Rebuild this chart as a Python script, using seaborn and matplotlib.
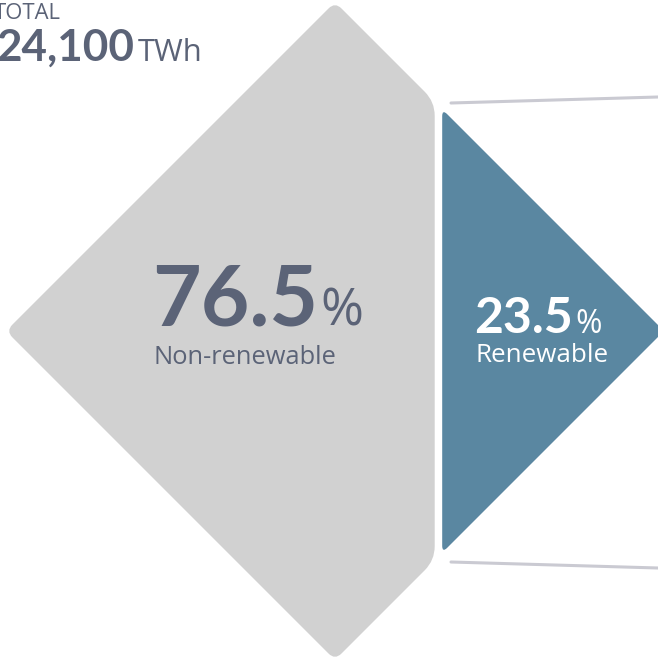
import numpy as np
import pandas as pd
import seaborn as sns
import matplotlib.pyplot as plt
from matplotlib.path import Path
from matplotlib.patches import PathPatch

# Data
total_twh = 24100
categories = ["Non-renewable", "Renewable"]
shares = [76.5, 23.5]
fill_colors = ["#d1d1d1", "#5a87a1"]
text_colors = ["#5b6377", "#ffffff"]

sns.set_theme(style="white")
plt.rcParams["font.family"] = ["Lato", "DejaVu Sans"]
LABEL_FONT = ["Open Sans", "DejaVu Sans"]

W = H = 658
fig = plt.figure(figsize=(W / 100, H / 100), dpi=100)
ax = fig.add_axes([0, 0, 1, 1])

PT = 0.72  # points per pixel at 100 dpi


def rounded_path(pts, radii):
    pts = [np.asarray(p, float) for p in pts]
    n = len(pts)
    verts, codes = [], []
    for i in range(n):
        p0, p1, p2 = pts[i - 1], pts[i], pts[(i + 1) % n]
        r = radii[i]
        u0 = (p0 - p1) / np.linalg.norm(p0 - p1)
        u2 = (p2 - p1) / np.linalg.norm(p2 - p1)
        a = p1 + u0 * r
        b = p1 + u2 * r
        verts.append(a)
        codes.append(Path.MOVETO if i == 0 else Path.LINETO)
        verts += [p1, b]
        codes += [Path.CURVE3, Path.CURVE3]
    verts.append(verts[0])
    codes.append(Path.CLOSEPOLY)
    return Path(verts, codes)


# Connector lines toward the breakdown on the right
conn = pd.DataFrame({
    "x": [451, 658, 451, 658],
    "y": [103, 97, 562, 568],
    "seg": ["top", "top", "bottom", "bottom"],
})
sns.lineplot(data=conn, x="x", y="y", units="seg", estimator=None,
             color="#cacad2", lw=2.2, ax=ax, sort=False)
ax.set_xlim(0, W)
ax.set_ylim(H, 0)
ax.axis("off")

# Diamond geometry; the split line is placed so that areas follow the shares
cx, cy, R = 335.0, 331.0, 329.0
gap = 7.5
d = R * np.sqrt(2 * shares[1] / 100.0)
split = cx + R - d
xg, xb = split - gap / 2, split + gap / 2
hg = R - (xg - cx)
hb = R - (xb - cx)

gray_pts = [(cx - R, cy), (cx, cy - R), (xg, cy - hg), (xg, cy + hg), (cx, cy + R)]
blue_pts = [(xb, cy - hb), (cx + R, cy), (xb, cy + hb)]

ax.add_patch(PathPatch(rounded_path(gray_pts, [9, 9, 14, 14, 9]),
                       facecolor=fill_colors[0], edgecolor="none"))
ax.add_patch(PathPatch(rounded_path(blue_pts, [7, 9, 7]),
                       facecolor=fill_colors[1], edgecolor="none"))

dark = text_colors[0]

# Total
ax.text(-6, 19, "TOTAL", fontsize=22 * PT, color=dark, ha="left", va="baseline",
        family=LABEL_FONT)
ax.text(-4, 61, f"{total_twh:,}", fontsize=44 * PT, fontweight="bold",
        color=dark, ha="left", va="baseline")
ax.text(138, 61, "TWh", fontsize=31 * PT, color=dark, ha="left", va="baseline",
        family=LABEL_FONT)

# Non-renewable label
ax.text(318, 325, f"{shares[0]:.1f}", fontsize=84 * PT, fontweight="bold",
        color=text_colors[0], ha="right", va="baseline")
ax.text(320, 325, "%", fontsize=52 * PT, fontweight="normal",
        color=text_colors[0], ha="left", va="baseline", family=LABEL_FONT)
ax.text(245, 364, categories[0], fontsize=25.5 * PT,
        color=text_colors[0], ha="center", va="baseline", family=LABEL_FONT)

# Renewable label
ax.text(573, 333, f"{shares[1]:.1f}", fontsize=50 * PT, fontweight="bold",
        color=text_colors[1], ha="right", va="baseline")
ax.text(575, 333, "%", fontsize=32 * PT, fontweight="normal",
        color=text_colors[1], ha="left", va="baseline", family=LABEL_FONT)
ax.text(542, 362, categories[1], fontsize=26 * PT,
        color=text_colors[1], ha="center", va="baseline", family=LABEL_FONT)

fig.savefig("out.png", dpi=100)
